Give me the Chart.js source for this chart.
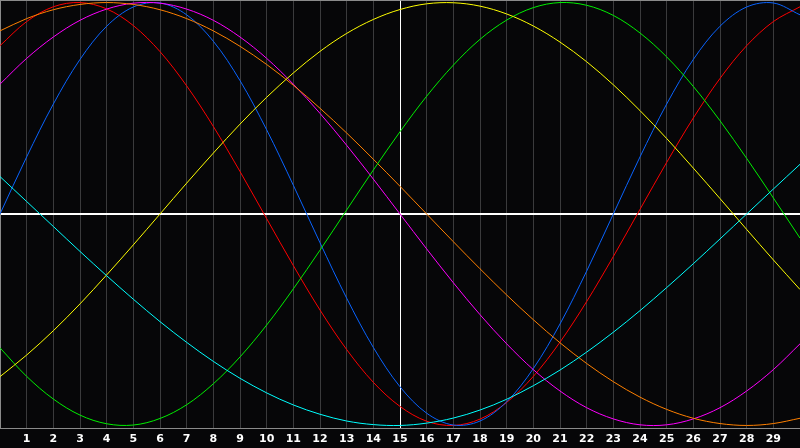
<!DOCTYPE html>
<html>
<head>
<meta charset="utf-8">
<script src="https://cdn.jsdelivr.net/npm/chart.js@4"></script>
<style>
  html, body { margin: 0; padding: 0; background: #060608; }
  #wrap { width: 800px; height: 448px; }
</style>
</head>
<body>
<div id="wrap"><canvas id="bioChart"></canvas></div>
<script>
/* DATA */
const days = [0, 1, 2, 3, 4, 5, 6, 7, 8, 9, 10, 11, 12, 13, 14, 15, 16, 17, 18, 19, 20, 21, 22, 23, 24, 25, 26, 27, 28, 29, 30];
const dayLabels = ['1', '2', '3', '4', '5', '6', '7', '8', '9', '10', '11', '12', '13', '14', '15', '16', '17', '18', '19', '20', '21', '22', '23', '24', '25', '26', '27', '28', '29'];

const red = [0.796, 0.910, 0.980, 1.000, 0.970, 0.891, 0.768, 0.606, 0.414, 0.201, -0.022, -0.244, -0.454, -0.641, -0.796, -0.910, -0.980, -1.000, -0.970, -0.891, -0.768, -0.606, -0.414, -0.201, 0.022, 0.244, 0.454, 0.641, 0.796, 0.910, 0.980];
const blue = [0.000, 0.270, 0.520, 0.731, 0.888, 0.979, 0.998, 0.942, 0.817, 0.631, 0.398, 0.136, -0.136, -0.398, -0.631, -0.817, -0.942, -0.998, -0.979, -0.888, -0.731, -0.520, -0.270, 0.000, 0.270, 0.520, 0.731, 0.888, 0.979, 0.998, 0.942];
const magenta = [0.614, 0.736, 0.837, 0.916, 0.969, 0.997, 0.997, 0.969, 0.916, 0.837, 0.736, 0.614, 0.476, 0.325, 0.165, 0.000, -0.165, -0.325, -0.476, -0.614, -0.736, -0.837, -0.916, -0.969, -0.997, -0.997, -0.969, -0.916, -0.837, -0.736, -0.614];
const orange = [0.866, 0.924, 0.966, 0.991, 1.000, 0.991, 0.966, 0.924, 0.866, 0.793, 0.707, 0.609, 0.500, 0.383, 0.259, 0.131, 0.000, -0.131, -0.259, -0.383, -0.500, -0.609, -0.707, -0.793, -0.866, -0.924, -0.966, -0.991, -1.000, -0.991, -0.966];
const yellow = [-0.769, -0.667, -0.552, -0.425, -0.288, -0.146, 0.000, 0.146, 0.288, 0.425, 0.552, 0.667, 0.769, 0.854, 0.920, 0.967, 0.994, 0.999, 0.983, 0.946, 0.889, 0.813, 0.720, 0.611, 0.489, 0.357, 0.217, 0.073, -0.073, -0.217, -0.357];
const green = [-0.633, -0.768, -0.875, -0.951, -0.992, -0.998, -0.967, -0.902, -0.803, -0.676, -0.525, -0.354, -0.171, 0.019, 0.208, 0.389, 0.557, 0.704, 0.826, 0.917, 0.976, 1.000, 0.987, 0.939, 0.856, 0.743, 0.603, 0.441, 0.263, 0.076, -0.114];
const cyan = [0.177, 0.059, -0.059, -0.177, -0.292, -0.403, -0.509, -0.607, -0.697, -0.777, -0.846, -0.903, -0.947, -0.979, -0.996, -1.000, -0.989, -0.965, -0.927, -0.876, -0.812, -0.738, -0.653, -0.559, -0.457, -0.348, -0.235, -0.118, 0.000, 0.118, 0.235];

const toPoints = vals => vals.map((v, i) => ({ x: days[i], y: v }));

function line(vals, color) {
    return {
        data: toPoints(vals),
        borderColor: color,
        borderWidth: 1,
        pointRadius: 0,
        fill: false,
        tension: 0.34
    };
}

const gridGray = '#3a3a3c';
const frameGray = '#8a8a8a';

new Chart(document.getElementById('bioChart'), {
    type: 'line',
    data: {
        datasets: [
            line(cyan, '#00ffff'),
            line(yellow, '#ffff00'),
            line(green, '#00f000'),
            line(orange, '#ff8000'),
            line(magenta, '#ff00ff'),
            line(blue, '#0a64ff'),
            line(red, '#ff0000')
        ]
    },
    options: {
        responsive: true,
        maintainAspectRatio: false,
        animation: false,
        devicePixelRatio: 1,
        layout: { padding: 0 },
        plugins: {
            legend: { display: false },
            tooltip: { enabled: false }
        },
        scales: {
            x: {
                type: 'linear',
                min: 0,
                max: 30,
                afterFit: s => {
                    s.height = 20;
                    s.paddingLeft = 0;
                    s.paddingRight = 0;
                },
                border: { display: true, color: frameGray, width: 1 },
                grid: {
                    drawTicks: false,
                    color: c => c.tick.value === 15 ? '#ffffff' : (c.tick.value === 0 ? frameGray : gridGray),
                    lineWidth: 1
                },
                ticks: {
                    stepSize: 1,
                    autoSkip: false,
                    maxRotation: 0,
                    padding: 5,
                    color: '#ffffff',
                    font: { family: 'DejaVu Sans', size: 11, weight: 'bold' },
                    callback: v => (v >= 1 && v <= 29) ? dayLabels[v - 1] : ''
                }
            },
            y: {
                min: -1.012,
                max: 1.012,
                afterFit: s => {
                    s.width = 0;
                    s.paddingTop = 0;
                    s.paddingBottom = 0;
                },
                afterBuildTicks: s => { s.ticks = [{ value: -1.012 }, { value: 0 }, { value: 1.012 }]; },
                border: { display: true, color: frameGray, width: 1 },
                grid: {
                    drawTicks: false,
                    color: c => c.tick.value === 0 ? '#ffffff' : frameGray,
                    lineWidth: c => c.tick.value === 0 ? 2 : 1
                },
                ticks: { display: false }
            }
        }
    }
});
</script>
</body>
</html>
